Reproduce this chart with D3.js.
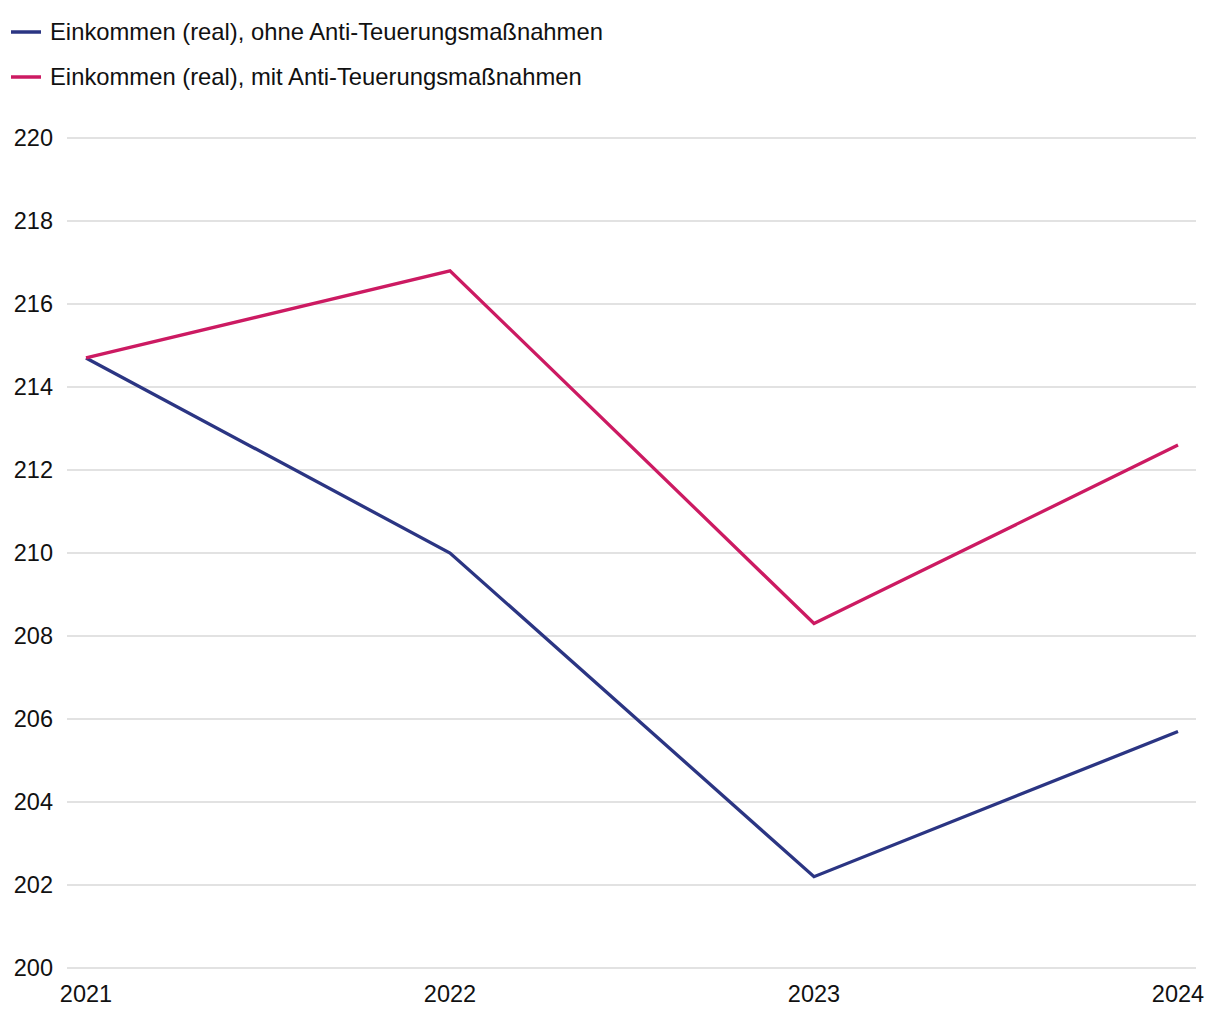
<!DOCTYPE html>
<html><head><meta charset="utf-8">
<script src="https://cdn.jsdelivr.net/npm/d3@7"></script>
<style>body{margin:0;background:#fff}text{font-family:"Liberation Sans",Arial,sans-serif;fill:#111}</style>
</head><body><svg id="c" width="1220" height="1020"></svg>
<script>
const years = ["2021","2022","2023","2024"];
const seriesNames = ["Einkommen (real), ohne Anti-Teuerungsmaßnahmen","Einkommen (real), mit Anti-Teuerungsmaßnahmen"];
const ohne = [214.7, 210.0, 202.2, 205.7];
const mit = [214.7, 216.8, 208.3, 212.6];
const yTicks = [200,202,204,206,208,210,212,214,216,218,220];
const colors = ["#2b3583","#cc1a62"];

const svg = d3.select("#c");
const x = d3.scalePoint().domain(years).range([86,1178]);
const y = d3.scaleLinear().domain([200,220]).range([968,138]);

svg.append("g").selectAll("line").data(yTicks).join("line")
  .attr("x1",67).attr("x2",1196).attr("y1",d=>y(d)).attr("y2",d=>y(d))
  .attr("stroke","#d9d9d9").attr("stroke-width",1.5);
svg.append("g").selectAll("text").data(yTicks).join("text")
  .attr("x",53).attr("y",d=>y(d)).attr("dy","0.35em").attr("text-anchor","end")
  .attr("font-size",23.5).text(d=>d);
svg.append("g").selectAll("text").data(years).join("text")
  .attr("x",d=>x(d)).attr("y",1002).attr("text-anchor","middle")
  .attr("font-size",23.5).text(d=>d);

const line = d3.line().x((d,i)=>x(years[i])).y(d=>y(d));
[ohne,mit].forEach((s,i)=>{
  svg.append("path").attr("d",line(s)).attr("fill","none")
    .attr("stroke",colors[i]).attr("stroke-width",3.3).attr("stroke-linejoin","miter");
});

const lg = svg.append("g").selectAll("g").data(seriesNames).join("g")
  .attr("transform",(d,i)=>`translate(0,${32+i*45})`);
lg.append("line").attr("x1",11).attr("x2",41).attr("stroke",(d,i)=>colors[i]).attr("stroke-width",3.5);
lg.append("text").attr("x",50).attr("dy","0.35em").attr("font-size",23.8).text(d=>d);
</script></body></html>
